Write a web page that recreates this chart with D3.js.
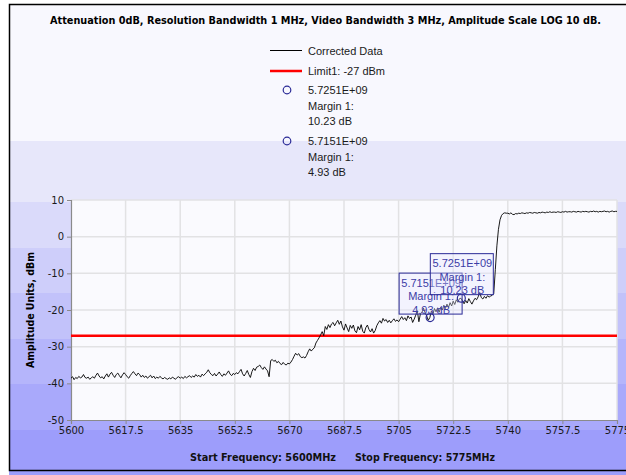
<!DOCTYPE html>
<html>
<head>
<meta charset="utf-8">
<script src="https://cdn.jsdelivr.net/npm/d3@7/dist/d3.min.js"></script>
<style>
  html, body { margin: 0; padding: 0; background: #ffffff; }
  svg { display: block; }
</style>
</head>
<body>
<svg id="chart" width="626" height="475"></svg>
<script>
// Sweep: 5600 – 5775 MHz, one sample every 0.5 MHz
const startFreq = 5600;
const stepMHz = 0.5;
const levels = [
  -38.6,-38.2,-39.0,-38.4,-38.7,-38.1,-38.5,-38.3,-37.6,-38.4,
  -38.6,-38.3,-38.9,-38.5,-38.2,-38.6,-37.8,-37.2,-38.0,-38.5,
  -38.2,-38.8,-38.0,-37.4,-38.3,-37.5,-37.0,-37.8,-38.4,-37.6,
  -37.2,-37.9,-38.5,-37.7,-37.1,-37.6,-38.2,-38.6,-37.9,-37.3,
  -36.8,-37.4,-37.9,-37.2,-37.6,-38.3,-37.8,-38.4,-38.0,-38.6,
  -38.2,-37.8,-38.5,-38.0,-38.7,-38.3,-38.6,-38.1,-38.5,-38.8,
  -38.4,-38.7,-38.9,-38.5,-38.8,-38.3,-38.6,-38.9,-38.4,-38.2,
  -38.6,-38.3,-38.7,-38.1,-38.5,-38.2,-37.9,-38.4,-38.0,-38.3,
  -37.6,-38.1,-37.8,-38.3,-37.5,-37.9,-37.4,-37.0,-36.3,-37.1,
  -37.6,-37.9,-37.3,-38.0,-37.5,-36.9,-37.6,-38.1,-37.4,-37.8,
  -37.2,-36.6,-37.5,-37.9,-37.3,-37.6,-37.1,-37.4,-36.8,-36.2,
  -37.4,-38.0,-37.3,-36.5,-37.6,-38.4,-36.8,-35.9,-36.5,-35.6,
  -35.4,-35.0,-35.7,-36.2,-35.5,-36.1,-36.6,-38.2,-33.8,-33.5,
  -34.0,-33.7,-34.4,-34.0,-34.6,-34.9,-34.3,-34.8,-35.0,-34.5,
  -34.7,-34.2,-33.5,-32.6,-31.8,-32.3,-31.9,-32.7,-33.0,-32.8,
  -33.1,-32.4,-31.4,-30.6,-31.2,-30.7,-30.3,-29.0,-28.3,-27.6,
  -26.8,-25.9,-27.0,-24.5,-25.3,-24.0,-24.8,-23.8,-23.4,-24.3,
  -23.5,-22.8,-23.9,-23.0,-24.6,-25.5,-23.8,-24.9,-25.9,-24.2,
  -25.0,-24.1,-25.7,-26.2,-24.5,-25.4,-24.0,-25.8,-26.3,-24.8,
  -24.1,-25.3,-26.0,-25.1,-26.3,-25.6,-24.3,-23.5,-22.9,-23.6,
  -22.3,-23.0,-22.6,-23.4,-22.8,-23.5,-22.9,-22.4,-23.1,-22.7,
  -23.2,-22.5,-21.8,-22.6,-22.1,-22.9,-21.6,-22.3,-21.9,-23.4,
  -22.5,-21.4,-20.2,-23.2,-21.0,-20.6,-19.5,-20.8,-21.6,-22.8,
  -22.1,-20.3,-21.2,-19.6,-20.5,-19.4,-20.6,-19.2,-20.0,-18.7,
  -19.6,-18.4,-19.3,-18.0,-18.9,-17.6,-18.5,-17.2,-17.9,-16.9,
  -16.8,-17.6,-18.3,-17.4,-18.1,-16.9,-17.7,-18.4,-17.5,-16.8,
  -17.2,-16.4,-15.2,-16.6,-17.0,-16.3,-16.8,-16.1,-16.5,-16.2,
  -16.0,-15.5,-9.0,-2.5,2.0,4.6,5.8,6.3,6.5,6.4,
  6.4,6.2,6.5,6.1,6.0,6.3,6.2,6.4,6.3,6.5,
  6.4,6.3,6.5,6.4,6.6,6.5,6.4,6.6,6.5,6.4,
  6.6,6.5,6.7,6.6,6.5,6.7,6.6,6.8,6.6,6.7,
  6.7,6.6,6.8,6.7,6.6,6.8,6.7,6.9,6.7,6.8,
  6.8,6.7,6.9,6.8,6.7,6.9,6.8,6.7,6.9,6.8,
  6.9,6.8,6.7,6.9,6.8,7.0,6.8,6.9,6.7,6.9,
  6.8,6.9,7.0,6.8,6.9,6.7,6.9,7.0,6.8,6.9,
  6.9
];

const limitLevel = -27;                    // Limit1, dBm
const markerFreqs = [5725.1, 5715.1];      // MHz
const markerLabels = ["5.7251E+09", "5.7151E+09"];
const markerMargins = [10.23, 4.93];       // dB above limit

const xTicks = [5600, 5617.5, 5635, 5652.5, 5670, 5687.5, 5705, 5722.5, 5740, 5757.5, 5775];
const yTicks = [10, 0, -10, -20, -30, -40, -50];

const titleText = "Attenuation 0dB, Resolution Bandwidth 1 MHz, Video Bandwidth 3 MHz, Amplitude Scale LOG 10 dB.";

// ---- layout ----
const plot = { left: 71, right: 617, top: 200, bottom: 420 };
const bands = [
  [4, 141, "#f8f8fe"], [141, 202, "#e7e7fa"], [202, 248, "#dadafa"],
  [248, 293, "#cecefa"], [293, 339, "#c2c2fa"], [339, 384, "#b5b5fb"],
  [384, 430, "#a9a9fb"], [430, 475, "#9d9dfb"]
];
const markerColor = "#2a2a96";
const tickFont = "'DejaVu Sans', sans-serif";
const legendFont = "'Liberation Sans', Arial, sans-serif";

const svg = d3.select("#chart");

// banded background
svg.append("g").selectAll("rect").data(bands).join("rect")
  .attr("x", 9).attr("width", 640)
  .attr("y", d => d[0]).attr("height", d => d[1] - d[0])
  .attr("fill", d => d[2]);

// outer frame
svg.append("rect")
  .attr("x", 9.5).attr("y", 4.5).attr("width", 640).attr("height", 466)
  .attr("fill", "none").attr("stroke", "#000").attr("stroke-width", 1.5);

const x = d3.scaleLinear().domain([5600, 5775]).range([plot.left, plot.right]);
const y = d3.scaleLinear().domain([-50, 10]).range([plot.bottom, plot.top]);

// plot area
svg.append("rect")
  .attr("x", plot.left).attr("y", plot.top)
  .attr("width", plot.right - plot.left).attr("height", plot.bottom - plot.top)
  .attr("fill", "#fafafe");

// grid
const grid = svg.append("g").attr("stroke", "#e2e2e4").attr("stroke-width", 1.5);
grid.selectAll("line.v").data(xTicks.slice(1)).join("line").attr("class", "v")
  .attr("x1", d => x(d)).attr("x2", d => x(d))
  .attr("y1", plot.top).attr("y2", plot.bottom);
grid.selectAll("line.h").data(yTicks.slice(0, -1)).join("line").attr("class", "h")
  .attr("y1", d => y(d)).attr("y2", d => y(d))
  .attr("x1", plot.left).attr("x2", plot.right);

// axes
const xAxis = svg.append("g")
  .attr("transform", `translate(0,${plot.bottom})`)
  .call(d3.axisBottom(x).tickValues(xTicks).tickSize(4).tickPadding(3)
    .tickFormat(d => String(d)));
const yAxis = svg.append("g")
  .attr("transform", `translate(${plot.left},0)`)
  .call(d3.axisLeft(y).tickValues(yTicks).tickSize(4).tickPadding(3)
    .tickFormat(d => String(d)));
[xAxis, yAxis].forEach(a => {
  a.select(".domain").attr("stroke", "#8a8a8a").attr("stroke-width", 1.2);
  a.selectAll(".tick line").attr("stroke", "#8a8a8a");
  a.selectAll(".tick text").attr("fill", "#1a1a1a")
    .attr("font-family", tickFont).attr("font-size", 10);
});

// limit line
svg.append("line")
  .attr("x1", plot.left).attr("x2", plot.right)
  .attr("y1", y(limitLevel)).attr("y2", y(limitLevel))
  .attr("stroke", "#ff0000").attr("stroke-width", 2.5);

// trace
const trace = levels.map((v, i) => [startFreq + i * stepMHz, v]);
svg.append("path")
  .datum(trace)
  .attr("fill", "none").attr("stroke", "#000").attr("stroke-width", 0.9)
  .attr("d", d3.line().x(d => x(d[0])).y(d => y(d[1])));

// markers with callout boxes
const markers = markerFreqs.map((f, i) => ({
  f, label: markerLabels[i], margin: markerMargins[i], level: limitLevel + markerMargins[i]
}));
const mg = svg.append("g");
markers.slice().reverse().forEach(m => {
  const cx = x(m.f), cy = y(m.level);
  const bw = 63, bh = 41, bx = cx - bw / 2, by = cy - 4 - bh;
  mg.append("circle").attr("cx", cx).attr("cy", cy).attr("r", 4)
    .attr("fill", "none").attr("stroke", markerColor).attr("stroke-width", 1.2);
  mg.append("rect").attr("x", bx + 0.5).attr("y", by + 0.5).attr("width", bw).attr("height", bh)
    .attr("fill", "rgba(228,228,255,0.35)").attr("stroke", markerColor).attr("stroke-width", 1);
  [m.label, "Margin 1:", `${m.margin.toFixed(2)} dB`].forEach((t, k) => {
    mg.append("text").attr("x", cx + 1).attr("y", by + 14 + k * 13.5)
      .attr("text-anchor", "middle").attr("fill", "#3c3ca6")
      .attr("font-family", legendFont).attr("font-size", 11).text(t);
  });
});

// title
svg.append("text").attr("x", 325.5).attr("y", 24).attr("text-anchor", "middle")
  .attr("font-family", tickFont).attr("font-weight", "bold").attr("font-size", 10)
  .attr("textLength", 551).attr("lengthAdjust", "spacingAndGlyphs")
  .attr("fill", "#000").text(titleText);

// legend
const lg = svg.append("g").attr("font-family", legendFont).attr("font-size", 11).attr("fill", "#1a1a1a");
lg.append("line").attr("x1", 270).attr("x2", 302).attr("y1", 50.5).attr("y2", 50.5)
  .attr("stroke", "#000").attr("stroke-width", 1);
lg.append("text").attr("x", 308).attr("y", 54.5).text("Corrected Data");
lg.append("line").attr("x1", 270).attr("x2", 302).attr("y1", 71).attr("y2", 71)
  .attr("stroke", "#ff0000").attr("stroke-width", 2.5);
lg.append("text").attr("x", 308).attr("y", 75).text(`Limit1: ${limitLevel} dBm`);
markers.forEach((m, i) => {
  const cy = 90 + i * 51;
  lg.append("circle").attr("cx", 287).attr("cy", cy).attr("r", 3.8)
    .attr("fill", "none").attr("stroke", markerColor).attr("stroke-width", 1.2);
  [m.label, "Margin 1:", `${m.margin.toFixed(2)} dB`].forEach((t, k) => {
    lg.append("text").attr("x", 308).attr("y", cy + 4 + k * 15.5).text(t);
  });
});

// y-axis title
svg.append("text")
  .attr("transform", "translate(34,310) rotate(-90)")
  .attr("text-anchor", "middle").attr("font-family", tickFont)
  .attr("font-weight", "bold").attr("font-size", 10)
  .attr("textLength", 116).attr("lengthAdjust", "spacingAndGlyphs")
  .attr("fill", "#000").text("Amplitude Units, dBm");

// footer
const foot = svg.append("g").attr("font-family", tickFont).attr("font-weight", "bold")
  .attr("font-size", 10).attr("fill", "#111");
foot.append("text").attr("x", 190).attr("y", 461)
  .attr("textLength", 146).attr("lengthAdjust", "spacingAndGlyphs")
  .text(`Start Frequency: ${startFreq}MHz`);
foot.append("text").attr("x", 355).attr("y", 461)
  .attr("textLength", 140).attr("lengthAdjust", "spacingAndGlyphs")
  .text(`Stop Frequency: ${xTicks[xTicks.length - 1]}MHz`);
</script>
</body>
</html>
